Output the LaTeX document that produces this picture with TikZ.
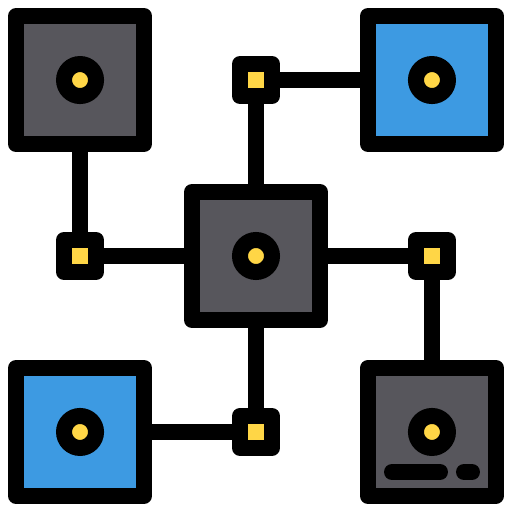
\documentclass[tikz,border=0pt]{standalone}
\usepackage{xcolor}
\usetikzlibrary{positioning}

\definecolor{chipgray}{RGB}{87,86,92}
\definecolor{chipblue}{RGB}{61,154,226}
\definecolor{pinyellow}{RGB}{255,214,70}

\begin{document}
\begin{tikzpicture}[
      x=0.02cm, y=0.02cm,
      bigbox/.style={
         rectangle,
         draw=black,
         line width=0.32cm,
         line join=round,
         inner sep=0pt,
         minimum size=2.56cm},
      graybox/.style={bigbox, fill=chipgray},
      bluebox/.style={bigbox, fill=chipblue},
      pin/.style={
         rectangle,
         draw=black,
         fill=pinyellow,
         line width=0.32cm,
         line join=round,
         inner sep=0pt,
         minimum size=0.64cm},
      hub/.style={
         circle,
         draw=black,
         fill=pinyellow,
         line width=0.32cm,
         inner sep=0pt,
         minimum size=0.64cm},
      wire/.style={line width=0.32cm},
      bar/.style={line width=0.32cm, line cap=round},
      on grid,
      node distance=3.52cm
      ]
\useasboundingbox (0,0) rectangle (512,512);

\node[graybox] (c) at (256,256) {};
\node[pin,above=of c] (pT) {};
\node[pin,left=of c ] (pL) {};
\node[pin,right=of c] (pR) {};
\node[pin,below=of c] (pB) {};

\node[graybox,left=of pT ] (tl) {};
\node[bluebox,right=of pT] (tr) {};
\node[bluebox,left=of pB ] (bl) {};
\node[graybox,right=of pB] (br) {};

\foreach \b in {c,tl,tr,bl,br}
   \node[hub] (\b hub) at (\b) {};

\foreach \i/\j in {% start node/end node
      pT/c, pT/tr,
      tl/pL, pL/c,
      c/pR, pR/br,
      c/pB, pB/bl}
   \draw[wire] (\i) -- (\j);

% label strip on the lower right chip
\draw[bar] (392,40) -- (440,40);
\draw[bar] (464,40) -- (472,40);

\end{tikzpicture}
\end{document}
